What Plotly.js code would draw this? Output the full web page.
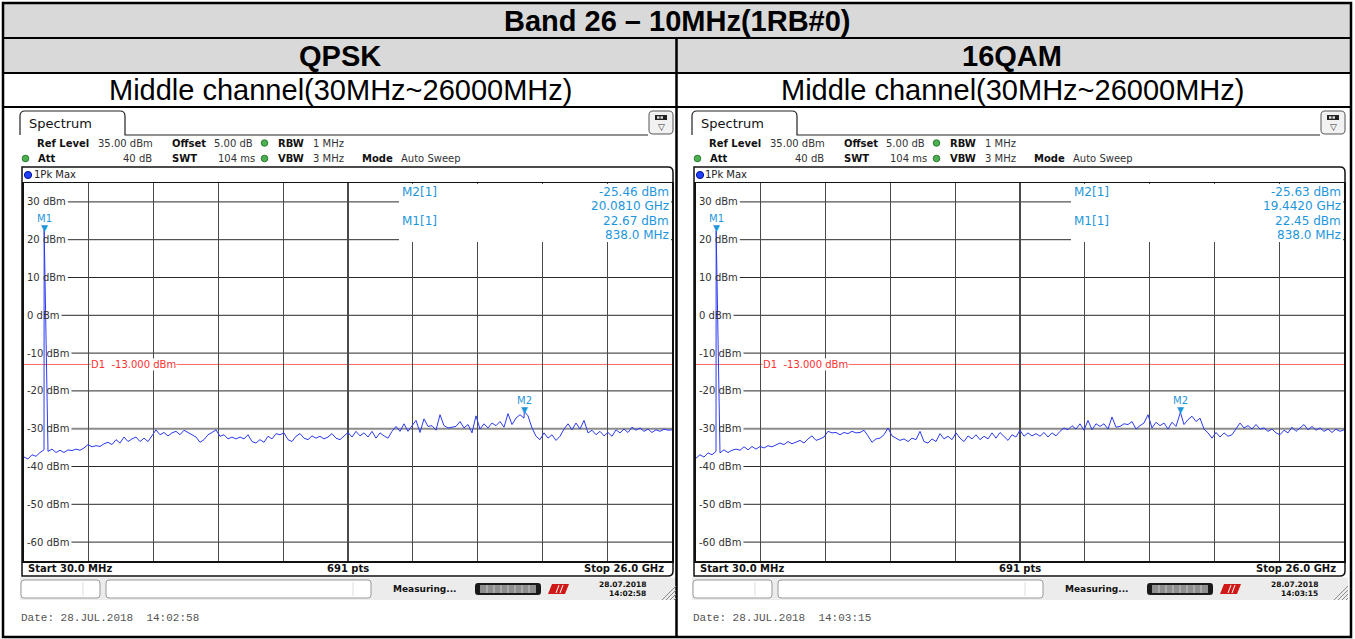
<!DOCTYPE html>
<html><head><meta charset="utf-8">
<script src="https://cdn.plot.ly/plotly-3.0.1.min.js"></script>
<style>html,body{margin:0;padding:0;background:#fff}#chart{width:1355px;height:639px}</style>
</head><body><div id="chart"></div>
<script>
// ---------------- data ----------------
const tableTitle = 'Band 26 \u2013 10MHz(1RB#0)';
const modulations = ['QPSK', '16QAM'];
const channelLabel = 'Middle channel(30MHz~26000MHz)';
const startFreqMHz = 30;
const stopFreqMHz = 26000;
const displayPoints = 691;
const refLevelDbm = 35;
const bottomLevelDbm = -65;
const yTickVals = [30, 20, 10, 0, -10, -20, -30, -40, -50, -60];
const d1LevelDbm = -13;
const markerNames = ['M1', 'M2'];
const qpskMarkerFreqMHz = [838.0, 20081.0];
const qpskMarkerLevelDbm = [22.67, -25.46];
const qamMarkerFreqMHz = [838.0, 19442.0];
const qamMarkerLevelDbm = [22.45, -25.63];
const captureDates = ['28.JUL.2018', '28.JUL.2018'];
const statusDates = ['28.07.2018', '28.07.2018'];
const captureTimes = ['14:02:58', '14:03:15'];
const settingLabels = ['Ref Level', 'Offset', 'RBW', 'Att', 'SWT', 'VBW', 'Mode'];
const settingValues = ['35.00 dBm', '5.00 dB', '1 MHz', '40 dB', '104 ms', '3 MHz', 'Auto Sweep'];
const traceName = '1Pk Max';
const tabName = 'Spectrum';
const statusText = 'Measuring...';

// trace levels, evenly spaced across the sweep
const qpskTraceDbm = [
-37.5,-38.0,-36.9,-37.3,-36.3,-35.6,-36.0,-35.4,-36.3,-35.7,
-36.3,-35.6,-35.8,-35.4,-35.7,-35.1,-34.2,-34.8,-34.5,-34.7,
-34.0,-33.6,-34.2,-32.9,-33.8,-32.2,-33.4,-32.7,-32.2,-33.4,
-32.5,-33.4,-32.0,-30.3,-31.6,-31.0,-31.9,-31.1,-30.7,-31.6,
-30.4,-31.1,-31.6,-32.2,-33.6,-32.9,-31.6,-31.0,-30.3,-32.0,
-31.6,-32.7,-32.2,-32.7,-32.2,-32.7,-31.6,-33.4,-33.8,-32.9,
-33.6,-32.0,-32.7,-31.3,-31.6,-31.1,-32.9,-33.4,-32.0,-31.3,
-32.5,-32.9,-31.9,-32.5,-32.0,-32.7,-32.2,-31.3,-32.5,-32.9,
-32.0,-31.0,-32.2,-30.7,-31.9,-31.1,-32.2,-30.7,-32.5,-31.1,
-31.9,-32.5,-30.7,-29.4,-30.7,-28.7,-30.7,-29.4,-27.8,-31.0,
-27.4,-29.4,-29.2,-30.4,-26.3,-29.2,-29.8,-29.6,-29.4,-28.1,
-29.8,-28.9,-31.1,-26.6,-30.1,-28.7,-29.8,-28.5,-29.2,-28.1,
-29.6,-26.0,-28.9,-27.2,-26.3,-27.2,-26.6,-29.8,-32.0,-32.9,
-31.1,-32.5,-31.6,-33.1,-32.0,-30.1,-28.7,-30.3,-28.5,-30.1,
-27.8,-31.1,-30.4,-31.6,-30.7,-31.9,-31.0,-32.0,-30.3,-31.1,
-30.1,-31.0,-29.6,-30.4,-29.8,-30.7,-30.1,-31.0,-30.3,-30.7,
-30.1,-30.4,-30.3];
const qamTraceDbm = [
-37.8,-36.9,-37.5,-36.4,-36.9,-36.0,-36.4,-35.6,-36.3,-35.7,
-35.4,-35.7,-34.8,-35.6,-34.7,-35.4,-34.7,-35.1,-34.5,-34.8,
-34.2,-33.8,-34.2,-33.4,-34.0,-33.6,-33.1,-33.8,-32.7,-31.9,
-33.1,-32.7,-32.2,-30.7,-31.1,-31.0,-31.6,-31.0,-31.3,-30.7,
-31.1,-31.0,-30.4,-31.9,-33.6,-32.7,-32.5,-31.6,-29.8,-31.9,
-32.5,-33.1,-32.7,-33.4,-32.5,-32.9,-30.7,-33.4,-33.8,-32.7,
-33.4,-31.3,-32.7,-32.0,-32.9,-31.1,-32.5,-33.4,-31.9,-32.7,
-31.6,-32.9,-32.0,-32.7,-31.1,-32.5,-31.0,-32.0,-33.1,-31.6,
-32.2,-30.4,-32.0,-31.1,-31.9,-31.3,-32.0,-31.0,-32.2,-31.1,
-31.9,-30.7,-29.8,-30.3,-29.2,-30.1,-28.7,-30.4,-27.8,-30.3,
-28.7,-29.4,-28.7,-30.1,-26.9,-29.6,-29.4,-28.7,-28.9,-28.1,
-30.1,-29.2,-28.5,-26.3,-29.8,-28.3,-29.2,-28.5,-30.1,-28.3,
-29.4,-26.0,-28.9,-27.6,-26.7,-28.1,-27.2,-30.1,-31.1,-32.5,
-31.0,-32.2,-31.1,-32.0,-31.6,-30.1,-28.5,-29.8,-29.2,-30.1,
-28.9,-30.1,-29.8,-30.7,-30.1,-31.1,-31.6,-30.4,-31.1,-29.6,
-30.7,-29.8,-28.9,-30.3,-29.4,-30.4,-29.8,-30.7,-30.1,-31.0,
-30.1,-30.7,-30.3];

// ---------------- helpers ----------------
const W = 1355, H = 639;
const PX = x => x / W;
const PY = y => 1 - y / H;
const FONT = 'DejaVu Sans';
const MBLUE = '#1e96dc';
const shapes = [], annotations = [];
function P(x, y) { return PX(x).toFixed(5) + ',' + PY(y).toFixed(5); }
function addRect(x0, y0, x1, y1, fill, lc, lw, layer) {
  shapes.push({type:'rect', xref:'paper', yref:'paper', x0:PX(x0), x1:PX(x1), y0:PY(y1), y1:PY(y0),
    fillcolor: fill || 'rgba(0,0,0,0)', line:{color: lc || 'rgba(0,0,0,0)', width: lw || 0}, layer: layer || 'above'});
}
function addLine(x0, y0, x1, y1, color, width, layer) {
  shapes.push({type:'line', xref:'paper', yref:'paper', x0:PX(x0), y0:PY(y0), x1:PX(x1), y1:PY(y1),
    line:{color, width}, layer: layer || 'above'});
}
function addPath(d, fill, lc, lw, layer) {
  shapes.push({type:'path', xref:'paper', yref:'paper', path:d, fillcolor: fill || 'rgba(0,0,0,0)',
    line:{color: lc || 'rgba(0,0,0,0)', width: lw || 0}, layer: layer || 'above'});
}
function rr(x0, y0, x1, y1, r) {
  const [a, b, c, d] = r;
  return 'M' + P(x0 + a, y0) + 'L' + P(x1 - b, y0) + 'Q' + P(x1, y0) + ' ' + P(x1, y0 + b) +
    'L' + P(x1, y1 - c) + 'Q' + P(x1, y1) + ' ' + P(x1 - c, y1) +
    'L' + P(x0 + d, y1) + 'Q' + P(x0, y1) + ' ' + P(x0, y1 - d) +
    'L' + P(x0, y0 + a) + 'Q' + P(x0, y0) + ' ' + P(x0 + a, y0) + 'Z';
}
function addCircle(cx, cy, r, fill, lc) {
  shapes.push({type:'circle', xref:'paper', yref:'paper', x0:PX(cx - r), x1:PX(cx + r), y0:PY(cy + r), y1:PY(cy - r),
    fillcolor: fill, line:{color: lc, width: 1}, layer:'above'});
}
function addText(x, y, text, size, color, anchor, family, extra) {
  annotations.push(Object.assign({xref:'paper', yref:'paper', x:PX(x), y:PY(y), text, showarrow:false,
    xanchor: anchor || 'left', yanchor:'middle', borderpad:0,
    font:{family: family || FONT, size, color}}, extra || {}));
}
const fmtLevel = v => v.toFixed(2) + ' dBm';
const fmtFreq = f => f >= 1000 ? (f / 1000).toFixed(4) + ' GHz' : f.toFixed(1) + ' MHz';
const tickText = v => v + ' dBm';

function buildTrace(levels, mFreq, mLevel) {
  const n = levels.length, step = (stopFreqMHz - startFreqMHz) / (n - 1);
  const pts = levels.map((v, i) => [startFreqMHz + i * step, v]);
  mFreq.forEach((f, k) => pts.push([f, mLevel[k]]));
  pts.sort((a, b) => a[0] - b[0]);
  return {x: pts.map(p => p[0]), y: pts.map(p => p[1])};
}

// ---------------- table ----------------
addRect(3, 3, 1351, 38, '#d9d9d9', null, 0, 'below');
addRect(3, 38, 1351, 73, '#d9d9d9', null, 0, 'below');
addLine(3, 38, 1351, 38, '#000', 2);
addLine(3, 73, 1351, 73, '#000', 2);
addLine(3, 107, 1351, 107, '#000', 2);
addLine(676.5, 38, 676.5, 637, '#000', 2.5);
addRect(3, 3, 1351, 637, null, '#000', 2.5);
addText(677, 21, '<b>' + tableTitle + '</b>', 29, '#000', 'center', 'Liberation Sans');

// ---------------- panels ----------------
const panels = [
  {xa:'x', ya:'y', levels:qpskTraceDbm, mf:qpskMarkerFreqMHz, ml:qpskMarkerLevelDbm},
  {xa:'x2', ya:'y2', levels:qamTraceDbm, mf:qamMarkerFreqMHz, ml:qamMarkerLevelDbm}
];
const data = [];
const layout = {
  width: W, height: H, autosize:false, margin:{l:0, r:0, t:0, b:0},
  paper_bgcolor:'#fff', plot_bgcolor:'#fff', showlegend:false,
  shapes, annotations
};
const ctx = document.createElement('canvas').getContext('2d');
ctx.font = '10px "DejaVu Sans"';

const settingPos = [[36, 143, 97], [171, 143, 213], [277, 143, 312], [37, 158.5, 153], [171, 158.5, 217], [277, 158.5, 312], [361, 158.5, 400]];

panels.forEach((p, k) => {
  const dx = k * 672;
  const xName = k === 0 ? 'xaxis' : 'xaxis2';
  const yName = k === 0 ? 'yaxis' : 'yaxis2';
  layout[xName] = {domain:[PX(24 + dx), PX(672 + dx)], anchor:p.ya, range:[startFreqMHz, stopFreqMHz],
    tick0:startFreqMHz, dtick:(stopFreqMHz - startFreqMHz) / 10, showgrid:true, gridcolor:'#4a4a4a', gridwidth:1.2,
    showticklabels:false, ticks:'', zeroline:false, showline:true, mirror:true, linecolor:'#111', linewidth:1.5, fixedrange:true};
  layout[yName] = {domain:[PY(561), PY(183)], anchor:p.xa, range:[bottomLevelDbm, refLevelDbm],
    tickvals:yTickVals, ticktext:yTickVals.map(tickText), ticklabelposition:'inside', ticklabelstandoff:2,
    showgrid:false, zeroline:false, showline:true, mirror:true, linecolor:'#111', linewidth:2, ticks:'',
    tickfont:{family:FONT, size:10, color:'#333'}, fixedrange:true};

  // header table cells
  addText(340 + dx, 55.5, '<b>' + modulations[k] + '</b>', 29, '#000', 'center', 'Liberation Sans');
  addText(340 + dx, 90, channelLabel, 29, '#000', 'center', 'Liberation Sans');

  // tab + icon
  addPath('M' + P(20 + dx, 135) + 'L' + P(20 + dx, 116) + 'Q' + P(20 + dx, 111) + ' ' + P(25 + dx, 111) +
    'L' + P(120 + dx, 111) + 'Q' + P(125 + dx, 111) + ' ' + P(125 + dx, 116) + 'L' + P(125 + dx, 135) +
    'L' + P(648 + dx, 135), null, '#222', 1.2);
  addText(28 + dx, 123, tabName, 13, '#111');
  addPath(rr(649 + dx, 111, 673 + dx, 134, [4, 4, 4, 4]), '#f2f2f2', '#555', 1);
  addRect(655 + dx, 115, 667 + dx, 120, '#222', null, 0);
  addRect(657 + dx, 116.3, 659.5 + dx, 118.7, '#ddd', null, 0);
  addRect(660.5 + dx, 116.3, 663 + dx, 118.7, '#ddd', null, 0);
  addText(661 + dx, 127, '\u25BD', 9, '#333', 'center');

  // settings
  settingLabels.forEach((lab, i) => {
    const [lx, ly, vx] = settingPos[i];
    addText(lx + dx, ly, '<b>' + lab + '</b>', 10, '#111');
    addText(vx + dx, ly, settingValues[i], 10, '#333', lab === 'Att' ? 'right' : 'left');
  });
  addCircle(264.5 + dx, 143, 3.3, '#4caf50', '#2e7d32');
  addCircle(264.5 + dx, 158.5, 3.3, '#4caf50', '#2e7d32');
  addCircle(25.5 + dx, 158.5, 3.3, '#4caf50', '#2e7d32');

  // frame
  addPath(rr(22 + dx, 167, 673 + dx, 576, [0, 5, 5, 0]), null, '#111', 1.5);
  addCircle(28 + dx, 175, 3.6, '#2040ff', '#001090');
  addText(32.5 + dx, 175, traceName, 10, '#222');

  // horizontal grid lines (start after tick labels)
  yTickVals.forEach(v => {
    const w = ctx.measureText(tickText(v)).width;
    const startPx = 27 + w + 2;
    shapes.push({type:'line', xref:p.xa + ' domain', yref:p.ya, x0:(startPx - 24) / 648, x1:1, y0:v, y1:v,
      line:{color: v === -30 ? '#8c8c8c' : '#2a2a2a', width: v === -30 ? 2 : 1}, layer:'below'});
  });
  // display line D1
  shapes.push({type:'line', xref:p.xa + ' domain', yref:p.ya, x0:0, x1:1, y0:d1LevelDbm, y1:d1LevelDbm,
    line:{color:'#ff6464', width:1}, layer:'below'});
  annotations.push({xref:'paper', yref:p.ya, x:PX(90 + dx), y:d1LevelDbm, text:'D1\u00a0\u00a0' + d1LevelDbm.toFixed(3) + ' dBm',
    showarrow:false, xanchor:'left', yanchor:'middle', bgcolor:'#fff', borderpad:0, font:{family:FONT, size:10, color:'#ff3030'}});

  // marker readout box
  addRect(399 + dx, 184, 671 + dx, 242, '#fff', null, 0);
  const rowsY = [[191.5, 206], [220.5, 234.5]];
  [1, 0].forEach((mi, r) => {
    addText(401 + dx, rowsY[r][0], markerNames[mi] + '[1]', 12, MBLUE, 'left');
    addText(670 + dx, rowsY[r][0], fmtLevel(p.ml[mi]), 12, MBLUE, 'right');
    addText(670 + dx, rowsY[r][1], fmtFreq(p.mf[mi]), 12, MBLUE, 'right');
  });

  // trace
  const tr = buildTrace(p.levels, p.mf, p.ml);
  data.push({type:'scatter', mode:'lines', x:tr.x, y:tr.y, xaxis:p.xa, yaxis:p.ya,
    line:{color:'#2b3af2', width:1}, hoverinfo:'skip', showlegend:false});

  // markers
  p.mf.forEach((f, i) => {
    annotations.push({xref:p.xa, yref:p.ya, x:f, y:p.ml[i], text:'\u25BC', showarrow:false, xanchor:'center', yanchor:'bottom',
      borderpad:0, yshift:-4, font:{family:FONT, size:9, color:MBLUE}});
    annotations.push({xref:p.xa, yref:p.ya, x:f, y:p.ml[i], text:markerNames[i], showarrow:false, xanchor:'center', yanchor:'bottom',
      borderpad:0, yshift:5, font:{family:FONT, size:10, color:MBLUE}});
  });

  // bottom bar
  addText(27 + dx, 568.5, '<b>Start ' + startFreqMHz.toFixed(1) + ' MHz</b>', 10, '#111');
  addText(348 + dx, 568.5, '<b>' + displayPoints + ' pts</b>', 10, '#111', 'center');
  addText(665 + dx, 568.5, '<b>Stop ' + (stopFreqMHz / 1000).toFixed(1) + ' GHz</b>', 10, '#111', 'right');

  // status bar
  addRect(20 + dx, 577.5, 676 + dx, 600, '#ececec', null, 0, 'below');
  addPath(rr(21 + dx, 580, 100 + dx, 598, [3, 3, 3, 3]), '#fff', '#999', 1);
  addLine(83 + dx, 582, 83 + dx, 596, '#ddd', 1);
  addPath(rr(106 + dx, 580, 371 + dx, 598, [3, 3, 3, 3]), '#fff', '#999', 1);
  addLine(353 + dx, 582, 353 + dx, 596, '#ddd', 1);
  addText(392 + dx, 589, '<b>' + statusText + '</b>', 9, '#111');
  addPath(rr(475 + dx, 583, 541 + dx, 595, [3, 3, 3, 3]), '#1a1a1a', null, 0);
  addRect(480 + dx, 585, 536 + dx, 593, '#8f8f8f', null, 0);
  for (let sx = 487; sx < 536; sx += 7) addLine(sx + dx, 585, sx + dx, 593, '#c4c4c4', 1);
  addPath('M' + P(548 + dx, 594) + 'L' + P(552 + dx, 584) + 'L' + P(569 + dx, 584) + 'L' + P(565 + dx, 594) + 'Z', '#d01818', null, 0);
  addLine(556 + dx, 593, 559 + dx, 585, '#fff', 1);
  addLine(560 + dx, 593, 563 + dx, 585, '#fff', 1);
  addText(647 + dx, 584, '<b>' + statusDates[k] + '</b>', 7.5, '#111', 'right');
  addText(647 + dx, 593, '<b>' + captureTimes[k] + '</b>', 7.5, '#111', 'right');
  [0, 4, 8, 12].forEach(o => addLine(662 + o + dx, 600, 676 + dx, 586 + o, '#8a8a8a', 1));

  // date line
  addText(20 + dx, 618, 'Date: ' + captureDates[k] + '\u00a0\u00a0' + captureTimes[k], 11, '#555', 'left', 'Liberation Mono');
});

Plotly.newPlot('chart', data, layout, {staticPlot:true, displayModeBar:false});
</script>
</body></html>
